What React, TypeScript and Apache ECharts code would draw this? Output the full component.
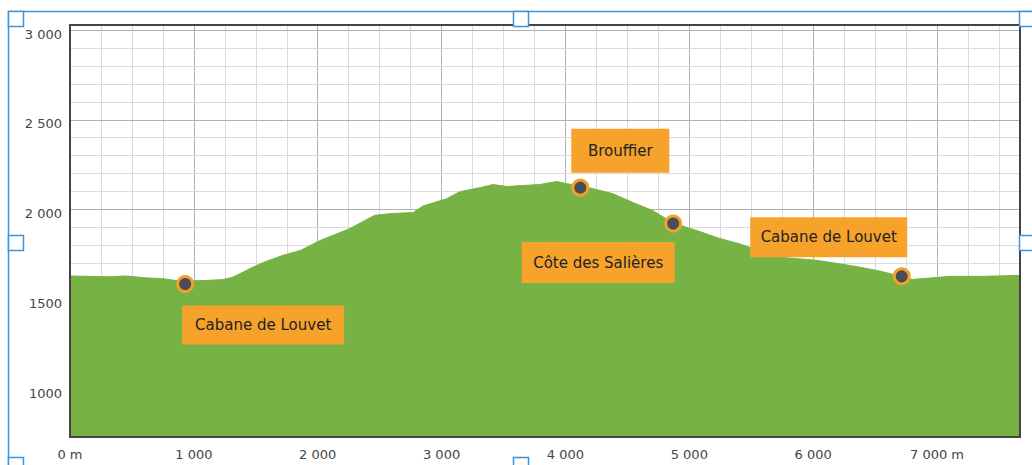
import React, { useEffect, useRef } from "react";
import * as echarts from "echarts";

// Elevation profile (distance in m, elevation in m)
const distances = [
  0, 150, 300, 450, 600, 750, 900, 1000, 1100, 1235, 1300, 1350, 1450, 1560,
  1720, 1860, 2020, 2260, 2460, 2600, 2770, 2850, 3040, 3150, 3310, 3415,
  3530, 3630, 3790, 3930, 4010, 4120, 4200, 4380, 4545, 4705, 4870, 5060,
  5245, 5410, 5490, 5755, 6030, 6295, 6515, 6710, 6800, 6920, 7100, 7370, 7670,
];
const elevations = [
  1630, 1628, 1625, 1630, 1620, 1615, 1600, 1603, 1605, 1610, 1620, 1635,
  1670, 1705, 1745, 1772, 1828, 1894, 1968, 1978, 1983, 2020, 2060, 2100,
  2122, 2139, 2128, 2133, 2139, 2156, 2144, 2132, 2120, 2089, 2039, 1994,
  1925, 1883, 1839, 1808, 1789, 1733, 1717, 1689, 1661, 1628, 1611, 1617,
  1628, 1628, 1633,
];

// Points of interest
const poiNames = ["Cabane de Louvet", "Brouffier", "Côte des Salières", "Cabane de Louvet"];
const poiDist = [930, 4120, 4870, 6715];
const poiElev = [1585, 2122, 1922, 1628];

// Axis settings
const xMin = 0;
const xMax = 7670;
const yMin = 733;
const yMax = 3028;
const yLabelValues = [1000, 1500, 2000, 2500, 3000];
const yLabelTexts = ["1000", "1500", "2 000", "2 500", "3 000"];
const xLabelTexts: Record<number, string> = {
  0: "0 m", 1000: "1 000", 2000: "2 000", 3000: "3 000",
  4000: "4 000", 5000: "5 000", 6000: "6 000", 7000: "7 000 m",
};
const yGridValues = [
  800, 900, 1000, 1100, 1200, 1300, 1400, 1500, 1600, 1700, 1800, 1900, 2000,
  2100, 2200, 2300, 2400, 2500, 2600, 2700, 2800, 2900, 3000,
];

const labelLayouts = [
  { offset: [78, 41], w: 162, h: 39 },
  { offset: [40, -37], w: 98, h: 44 },
  { offset: [-75, 39], w: 153, h: 41 },
  { offset: [-73, -39], w: 157, h: 40 },
];

const FONT = "'DejaVu Sans', sans-serif";
const BLUE = "#3f93d8";

export default function App() {
  const ref = useRef<HTMLDivElement>(null);
  useEffect(() => {
    if (!ref.current) return;
    const chart = echarts.init(ref.current, undefined, { renderer: "svg" });
    const profile = distances.map((d, i) => [d, elevations[i]]);
    const handle = (x: number, y: number) => ({
      type: "rect",
      shape: { x, y, width: 15, height: 15 },
      style: { fill: "#fff", stroke: BLUE, lineWidth: 1.5 },
      z: 100,
    });
    chart.setOption({
      animation: false,
      textStyle: { fontFamily: FONT },
      grid: {
        left: 70, right: 12, top: 25, bottom: 28,
        show: true, z: 10, backgroundColor: "transparent",
        borderColor: "#444", borderWidth: 2,
      },
      xAxis: {
        type: "value", min: xMin, max: xMax, interval: 250,
        axisLine: { show: false }, axisTick: { show: false },
        axisLabel: {
          color: "#444", fontSize: 13, margin: 11, fontFamily: FONT,
          formatter: (v: number) => xLabelTexts[v] ?? "",
        },
        splitLine: {
          show: true,
          lineStyle: { color: ["#b0b0b0", "#dadada", "#dadada", "#dadada"], width: 1 },
        },
      },
      yAxis: {
        type: "value", min: yMin, max: yMax,
        axisLine: { show: false }, axisTick: { show: false },
        splitLine: { show: false },
        axisLabel: {
          customValues: yLabelValues,
          color: "#444", fontSize: 13, margin: 8, fontFamily: FONT,
          verticalAlign: "top", lineHeight: 8,
          formatter: (v: number) => {
            const i = yLabelValues.indexOf(v);
            return i >= 0 ? yLabelTexts[i] : "";
          },
        },
      },
      series: [
        {
          type: "line", data: [], z: 1, silent: true,
          markLine: {
            z: 1, silent: true, symbol: "none", label: { show: false },
            data: yGridValues.map((v) => ({
              yAxis: v,
              lineStyle: { color: v % 500 === 0 ? "#b0b0b0" : "#dadada", width: 1, type: "solid" },
            })),
          },
        },
        {
          type: "line", data: profile, z: 3, symbol: "none", smooth: false,
          lineStyle: { color: "#76b244", width: 1 },
          areaStyle: { color: "#76b244", opacity: 1 },
        },
        {
          type: "scatter", z: 6,
          symbolSize: 15,
          itemStyle: { color: "#4a4c56", borderColor: "#f4a12b", borderWidth: 3, opacity: 1 },
          data: poiDist.map((d, i) => ({
            value: [d, poiElev[i]],
            label: {
              show: true, position: "inside",
              formatter: poiNames[i],
              offset: labelLayouts[i].offset,
              width: labelLayouts[i].w, height: labelLayouts[i].h,
              lineHeight: labelLayouts[i].h,
              align: "center", verticalAlign: "middle",
              backgroundColor: "#f6a22b",
              color: "#222", fontSize: 15, fontFamily: FONT,
            },
          })),
        },
      ],
      graphic: [
        { type: "line", shape: { x1: 8, y1: 11.5, x2: 1032, y2: 11.5 }, style: { stroke: BLUE, lineWidth: 1.5 }, z: 99 },
        { type: "line", shape: { x1: 8.5, y1: 11, x2: 8.5, y2: 465 }, style: { stroke: BLUE, lineWidth: 1.5 }, z: 99 },
        handle(8.5, 11.5),
        handle(513.5, 11.5),
        handle(1019.5, 11.5),
        handle(8.5, 235.5),
        handle(1019.5, 235.5),
        handle(8.5, 457.5),
        handle(513.5, 457.5),
      ],
    });
    return () => chart.dispose();
  }, []);
  return (
    <div
      ref={ref}
      style={{ position: "fixed", left: 0, top: 0, width: 1032, height: 465, background: "#fff" }}
    />
  );
}
